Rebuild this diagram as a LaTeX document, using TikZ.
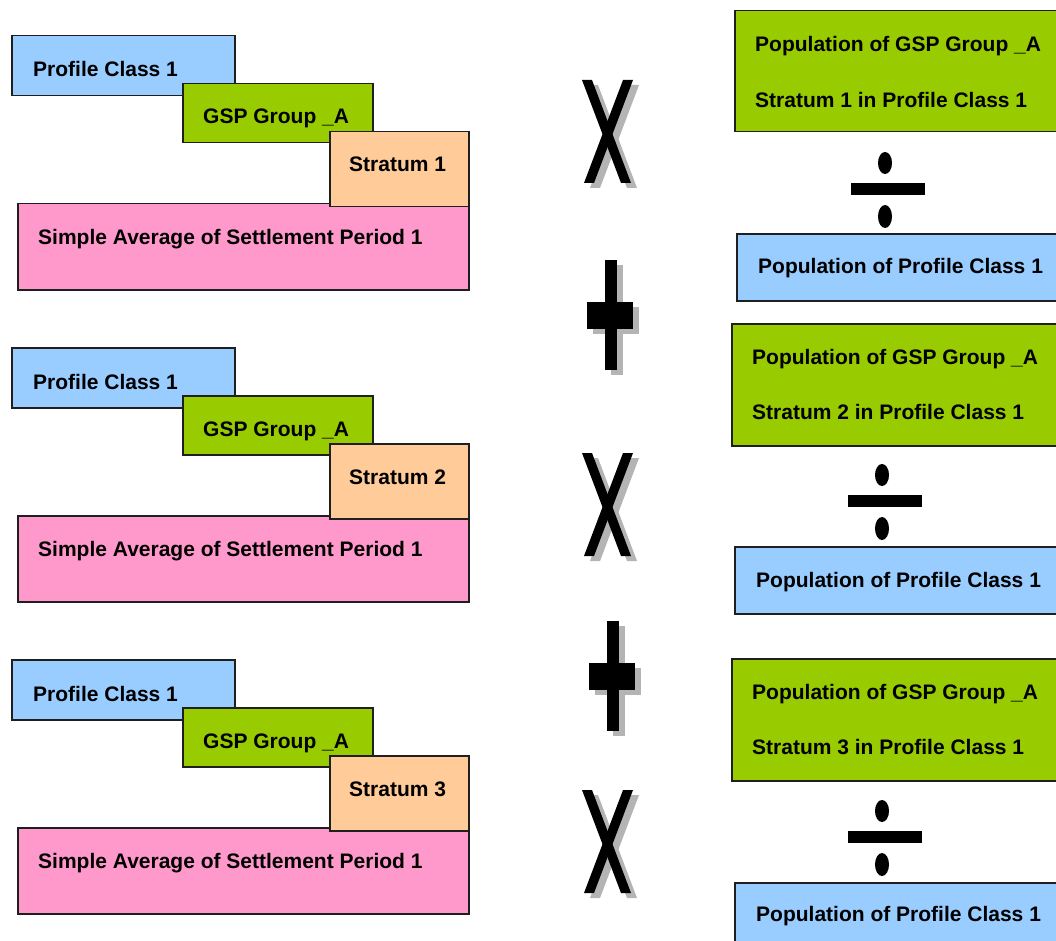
\documentclass[tikz,border=0pt]{standalone}
\usepackage{fontspec}
\setmainfont{Liberation Sans}
\definecolor{pcblue}{HTML}{99CCFF}
\definecolor{gspgreen}{HTML}{99CC00}
\definecolor{stratorange}{HTML}{FFCC99}
\definecolor{avgpink}{HTML}{FF99CC}
\definecolor{signshade}{HTML}{B4B4B4}
\tikzset{
  box/.style={draw=black!88, line width=1.5pt, rectangle, anchor=north west, inner sep=0pt},
  lbl/.style={anchor=base west, inner sep=0pt, font=\fontsize{21}{25}\selectfont\bfseries},
  pics/timessign/.style={code={
    \begin{scope}[shift={(6,5)}]
      \fill[signshade] (0,0) -- (10,0) -- (49,103) -- (39,103) -- cycle;
      \fill[signshade] (41,0) -- (51,0) -- (12,103) -- (2,103) -- cycle;
    \end{scope}
    \fill[black] (0,0) -- (10,0) -- (49,103) -- (39,103) -- cycle;
    \fill[black] (41,0) -- (51,0) -- (12,103) -- (2,103) -- cycle;
  }},
  pics/plussign/.style={code={
    \begin{scope}[shift={(6,5)}]
      \fill[signshade] (0,0) rectangle (12,110);
      \fill[signshade] (-18,42) rectangle (28,69);
    \end{scope}
    \fill[black] (0,0) rectangle (12,110);
    \fill[black] (-18,42) rectangle (28,69);
  }},
  pics/dividesign/.style={code={
    \fill[black] (-3,11) ellipse [x radius=7pt, y radius=11pt];
    \fill[black] (-37,31) rectangle (37,43);
    \fill[black] (-3,64.5) ellipse [x radius=7pt, y radius=11.5pt];
  }}
}
\begin{document}
\begin{tikzpicture}[x=1pt, y=-1pt]
  \useasboundingbox (0,0) rectangle (1056,941);
  \fill[white] (0,0) rectangle (1056,941);
  \clip (0,0) rectangle (1056,941);

  % left column: three stacked groups of boxes
  \foreach \k in {1,2,3} {
    \pgfmathsetmacro{\dy}{312*(\k-1)}
    \node[box, fill=pcblue, minimum width=223pt, minimum height=60pt] (pc\k) at (11,35+\dy) {};
    \node[box, fill=gspgreen, minimum width=190pt, minimum height=59pt] (gsp\k) at (182,83+\dy) {};
    \node[box, fill=avgpink, minimum width=451pt, minimum height=86pt] (avg\k) at (17,203+\dy) {};
    \node[box, fill=stratorange, minimum width=139pt, minimum height=75pt] (str\k) at (329,131+\dy) {};
    \node[lbl] (pct\k) at (33,77+\dy) {Profile Class 1};
    \node[lbl] (gspt\k) at (203,124+\dy) {GSP Group \_A};
    \node[lbl] (strt\k) at (349,172+\dy) {Stratum \k};
    \node[lbl] (avgt\k) at (38,244+\dy) {Simple Average of Settlement Period 1};
  }

  % operators between the columns
  \pic at (582,80) {timessign};
  \pic at (582,453) {timessign};
  \pic at (582,790) {timessign};
  \pic at (605,260) {plussign};
  \pic at (607,621) {plussign};

  % right column: population ratios
  \node[box, fill=gspgreen, minimum width=336pt, minimum height=121pt] (pop1) at (734,10) {};
  \node[lbl] (pop1a) at (755,51.5) {Population of GSP Group \_A};
  \node[lbl] (pop1b) at (755,107.5) {Stratum 1 in Profile Class 1};
  \pic at (888,152) {dividesign};
  \node[box, fill=pcblue, minimum width=334pt, minimum height=67pt] (cls1) at (736,233) {};
  \node[lbl] (cls1t) at (758,273.5) {Population of Profile Class 1};

  \node[box, fill=gspgreen, minimum width=339pt, minimum height=122pt] (pop2) at (731,323) {};
  \node[lbl] (pop2a) at (752,364.5) {Population of GSP Group \_A};
  \node[lbl] (pop2b) at (752,419.5) {Stratum 2 in Profile Class 1};
  \pic at (885,464) {dividesign};
  \node[box, fill=pcblue, minimum width=336pt, minimum height=67pt] (cls2) at (734,546) {};
  \node[lbl] (cls2t) at (756,587.5) {Population of Profile Class 1};

  \node[box, fill=gspgreen, minimum width=339pt, minimum height=122pt] (pop3) at (731,658) {};
  \node[lbl] (pop3a) at (752,699.5) {Population of GSP Group \_A};
  \node[lbl] (pop3b) at (752,754.5) {Stratum 3 in Profile Class 1};
  \pic at (885,800) {dividesign};
  \node[box, fill=pcblue, minimum width=336pt, minimum height=67pt] (cls3) at (734,882) {};
  \node[lbl] (cls3t) at (756,921.5) {Population of Profile Class 1};
\end{tikzpicture}
\end{document}
